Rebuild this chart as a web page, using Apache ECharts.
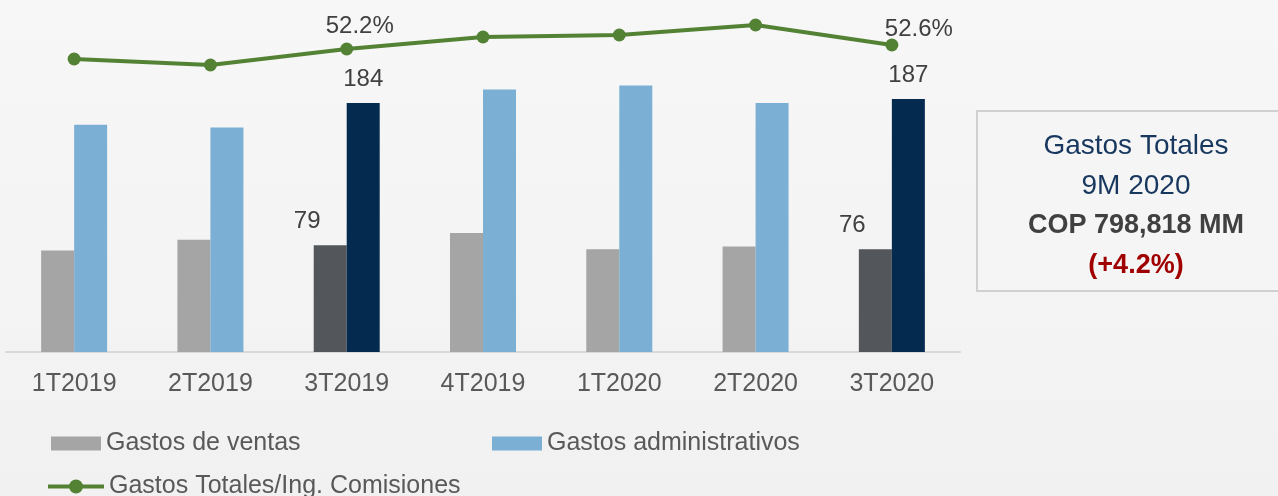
<!DOCTYPE html>
<html>
<head>
<meta charset="utf-8">
<script src="https://cdn.jsdelivr.net/npm/echarts@6/dist/echarts.min.js"></script>
<style>
  html, body { margin: 0; padding: 0; }
  #chart { width: 1278px; height: 496px; }
</style>
</head>
<body>
<div id="chart"></div>
<script>
// datos
const categorias = ['1T2019', '2T2019', '3T2019', '4T2019', '1T2020', '2T2020', '3T2020'];
const gastosVentas = [75, 83, 79, 88, 76, 78, 76];
const gastosAdmin = [168, 166, 184, 194, 197, 184, 187];
const ratioComisiones = [51.2, 50.6, 52.2, 53.4, 53.6, 54.6, 52.6];
const destacados = [2, 6]; // trimestres 3T con color y etiqueta

const fuente = 'Liberation Sans';
const grisTexto = '#595959';

// arma los datos de barras con color resaltado en los 3T
function barras(valores, color, colorDestacado, offsetX) {
  return valores.map((v, i) => {
    const d = destacados.includes(i);
    return {
      value: v,
      itemStyle: { color: d ? colorDestacado : color },
      label: { show: d, offset: [offsetX, 0] }
    };
  });
}

const lineaData = ratioComisiones.map((v, i) => ({
  value: v,
  label: { show: destacados.includes(i), offset: i === 6 ? [27, 13] : [13, 6] }
}));

// icono de leyenda: linea gruesa con punto
const iconoLinea = 'path://M0,5H56V9H0Z M21,7A7,7 0 1,1 35,7A7,7 0 1,1 21,7Z';

let chart = echarts.init(document.getElementById('chart'));
chart.setOption({
  animation: false,
  backgroundColor: {
    type: 'linear', x: 0, y: 0, x2: 0, y2: 1,
    colorStops: [{ offset: 0, color: '#F7F7F7' }, { offset: 1, color: '#F1F1F1' }]
  },
  textStyle: { fontFamily: fuente },
  grid: { left: 6, right: 318, top: 10, bottom: 144 },
  xAxis: {
    type: 'category',
    data: categorias,
    axisTick: { show: false },
    axisLine: { lineStyle: { color: '#D9D9D9', width: 2 } },
    axisLabel: { color: grisTexto, fontSize: 25, margin: 20, fontFamily: fuente }
  },
  yAxis: [
    { type: 'value', min: 0, max: 252.8, show: false },
    { type: 'value', min: 21.9, max: 56.1, show: false }
  ],
  legend: [
    {
      left: 51, top: 431, padding: 0, itemWidth: 50, itemHeight: 14, itemGap: 0, icon: 'rect',
      data: ['Gastos de ventas'],
      textStyle: { color: grisTexto, fontSize: 25, fontFamily: fuente }
    },
    {
      left: 492, top: 431, padding: 0, itemWidth: 50, itemHeight: 14, itemGap: 0, icon: 'rect',
      data: ['Gastos administrativos'],
      textStyle: { color: grisTexto, fontSize: 25, fontFamily: fuente }
    },
    {
      left: 48, top: 474, padding: 0, itemWidth: 56, itemHeight: 14, itemGap: 0, icon: iconoLinea,
      data: ['Gastos Totales/Ing. Comisiones'],
      textStyle: { color: grisTexto, fontSize: 25, fontFamily: fuente }
    }
  ],
  series: [
    {
      name: 'Gastos de ventas',
      type: 'bar',
      barWidth: 33,
      barGap: '0%',
      itemStyle: { color: '#A5A5A5' },
      label: { position: 'top', distance: 12, color: '#404040', fontSize: 24, fontFamily: fuente },
      data: barras(gastosVentas, '#A5A5A5', '#53565A', -23)
    },
    {
      name: 'Gastos administrativos',
      type: 'bar',
      barWidth: 33,
      itemStyle: { color: '#7BAFD4' },
      label: { position: 'top', distance: 12, color: '#404040', fontSize: 24, fontFamily: fuente },
      data: barras(gastosAdmin, '#7BAFD4', '#052A50', 0)
    },
    {
      name: 'Gastos Totales/Ing. Comisiones',
      type: 'line',
      yAxisIndex: 1,
      symbol: 'circle',
      symbolSize: 13,
      lineStyle: { color: '#548235', width: 4 },
      itemStyle: { color: '#548235' },
      label: {
        position: 'top', distance: 10, color: '#404040', fontSize: 24, fontFamily: fuente,
        formatter: p => p.value.toFixed(1) + '%'
      },
      data: lineaData
    }
  ],
  graphic: [
    {
      type: 'rect',
      shape: { x: 977, y: 111, width: 320, height: 180 },
      style: { fill: '#F5F5F5', stroke: '#D0D0D0', lineWidth: 2 }
    },
    {
      type: 'text', x: 1136, y: 146,
      style: { text: 'Gastos Totales', fill: '#17375E', font: '28px "Liberation Sans"', textAlign: 'center', textVerticalAlign: 'middle' }
    },
    {
      type: 'text', x: 1136, y: 186,
      style: { text: '9M 2020', fill: '#17375E', font: '28px "Liberation Sans"', textAlign: 'center', textVerticalAlign: 'middle' }
    },
    {
      type: 'text', x: 1136, y: 226,
      style: { text: 'COP 798,818 MM', fill: '#404040', font: 'bold 27px "Liberation Sans"', textAlign: 'center', textVerticalAlign: 'middle' }
    },
    {
      type: 'text', x: 1136, y: 266,
      style: { text: '(+4.2%)', fill: '#A00000', font: 'bold 27px "Liberation Sans"', textAlign: 'center', textVerticalAlign: 'middle' }
    }
  ]
});
</script>
</body>
</html>
